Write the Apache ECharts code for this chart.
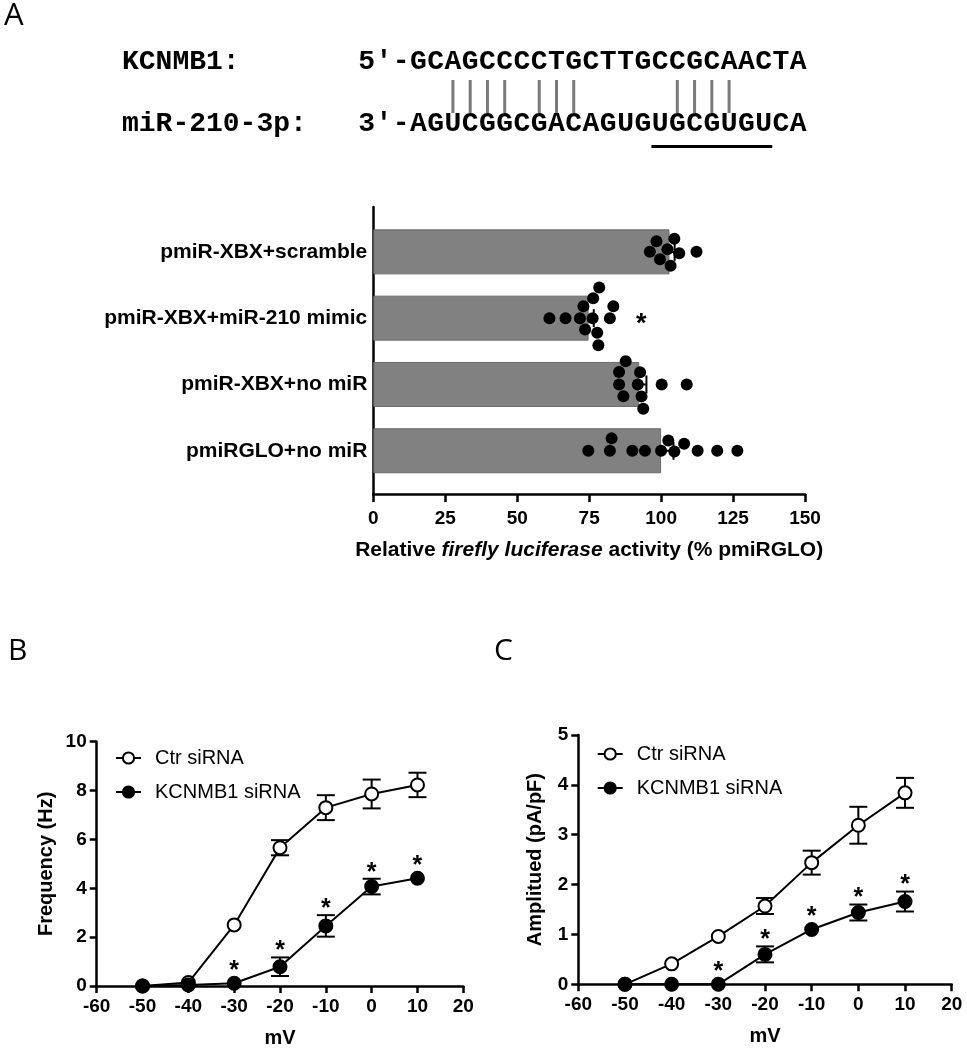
<!DOCTYPE html>
<html>
<head>
<meta charset="utf-8">
<script src="https://cdn.jsdelivr.net/npm/echarts@6/dist/echarts.min.js"></script>
<style>html,body{margin:0;padding:0;background:#fff}#c{width:967px;height:1050px}</style>
</head>
<body>
<div id="c"></div>
<script>
// ---------- DATA ----------
// Panel A: sequence alignment
const seqLabelTop = "KCNMB1:";
const seqLabelBot = "miR-210-3p:";
const seqTop = "5\u2032-GCAGCCCCTGCTTGCCGCAACTA";
const seqBot = "3\u2032-AGUCGGCGACAGUGUGCGUGUCA";
const pairIdx = [5, 6, 7, 8, 10, 11, 12, 18, 19, 20, 21];
const seedRange = [17, 24]; // chars 17..23 underlined

// Panel A: luciferase assay
const categoriesA = ["pmiR-XBX+scramble", "pmiR-XBX+miR-210 mimic", "pmiR-XBX+no miR", "pmiRGLO+no miR"];
const barMeans = [102.9, 74.8, 92.4, 100.0];
const barSEM = [1.8, 1.8, 2.5, 4.3];
const sigA = [false, true, false, false];
const dotsScramble = [96.1, 98.4, 99.6, 102.2, 103.3, 104.6, 106.3, 112.3];
const dotsMimic = [61.2, 66.8, 71.8, 73.0, 73.6, 76.2, 76.4, 77.8, 78.2, 78.5, 82.2, 83.4];
const dotsNoMiR = [85.4, 85.4, 86.9, 87.7, 91.9, 92.7, 93.2, 93.8, 100.2, 108.9];
const dotsGLO = [74.7, 82.2, 82.8, 90.0, 94.4, 100.0, 102.5, 104.6, 108.0, 112.7, 119.5, 126.5];
const xTicksA = [0, 25, 50, 75, 100, 125, 150];

// Panels B & C: voltage (mV)
const mV = [-50, -40, -30, -20, -10, 0, 10];
const seriesNames = ["Ctr siRNA", "KCNMB1 siRNA"];
// B: Frequency (Hz)
const freqCtr = [0, 0.14, 2.50, 5.66, 7.30, 7.86, 8.23];
const freqCtrErr = [0, 0.05, 0.12, 0.31, 0.51, 0.59, 0.50];
const freqKD = [0, 0.04, 0.11, 0.79, 2.46, 4.07, 4.41];
const freqKDErr = [0, 0.02, 0.05, 0.38, 0.44, 0.32, 0.08];
const sigB = [false, false, true, true, true, true, true];
// C: Amplitude (pA/pF)
const ampCtr = [0, 0.41, 0.96, 1.57, 2.44, 3.19, 3.84];
const ampCtrErr = [0, 0.03, 0.05, 0.16, 0.24, 0.37, 0.30];
const ampKD = [0, 0, 0, 0.60, 1.10, 1.44, 1.66];
const ampKDErr = [0, 0, 0, 0.16, 0.05, 0.16, 0.20];
const sigC = [false, false, true, true, true, true, true];

// ---------- STYLE ----------
const SANS = '"Liberation Sans", Arial, sans-serif';
const MONO = '"Liberation Mono", "DejaVu Sans Mono", monospace';
const LETTER = '"Open Sans", "Noto Sans", sans-serif';
const AXW = 2.5;
const SYM = 13;

const chart = echarts.init(document.getElementById('c'), null, {renderer: 'canvas'});

// ---------- Graphic: panel letters + sequence alignment ----------
const graphics = [];
graphics.push({type: 'text', x: 4, y: 1, style: {text: 'A', font: '31px ' + LETTER, fill: '#000'}});
graphics.push({type: 'text', x: 8, y: 636, style: {text: 'B', font: '30px ' + LETTER, fill: '#000'}});
graphics.push({type: 'text', x: 494, y: 636, style: {text: 'C', font: '30px ' + LETTER, fill: '#000'}});

const seqX0 = 358, cw = 17.26, yTop = 61.5, yBot = 123.5;
const seqFont = 'bold 28px ' + MONO;
graphics.push({type: 'text', x: 122, y: yTop, style: {text: seqLabelTop, font: seqFont, fill: '#000', verticalAlign: 'middle'}});
graphics.push({type: 'text', x: 122, y: yBot, style: {text: seqLabelBot, font: seqFont, fill: '#000', verticalAlign: 'middle'}});
[[seqTop, yTop], [seqBot, yBot]].forEach(([s, yy]) => {
  Array.from(s).forEach((ch, i) => {
    graphics.push({type: 'text', x: seqX0 + cw * (i + 0.5), y: yy,
      style: {text: ch, font: seqFont, fill: '#000', align: 'center', verticalAlign: 'middle'}});
  });
});
pairIdx.forEach(i => {
  const x = seqX0 + cw * (i + 0.5);
  graphics.push({type: 'line', shape: {x1: x, y1: 80, x2: x, y2: 113}, style: {stroke: '#7a7a7a', lineWidth: 3}});
});
graphics.push({type: 'line', shape: {x1: seqX0 + cw * seedRange[0], y1: 146.5, x2: seqX0 + cw * seedRange[1], y2: 146.5},
  style: {stroke: '#000', lineWidth: 3}});

// ---------- helpers ----------
// error bars shorter than the symbol radius are hidden behind the symbol (as in the original)
function errV(params, api) {
  const x = api.value(0), m = api.value(1), e = api.value(2);
  if (!(e > 0)) return null;
  const t = api.coord([x, m + e]), c = api.coord([x, m]), b = api.coord([x, Math.max(m - e, 0)]);
  if (Math.abs(c[1] - t[1]) < SYM / 2 + 0.5) return null;
  const hw = 9, st = {stroke: '#000', lineWidth: 2};
  return {type: 'group', children: [
    {type: 'line', shape: {x1: t[0], y1: t[1], x2: b[0], y2: b[1]}, style: st},
    {type: 'line', shape: {x1: t[0] - hw, y1: t[1], x2: t[0] + hw, y2: t[1]}, style: st},
    {type: 'line', shape: {x1: b[0] - hw, y1: b[1], x2: b[0] + hw, y2: b[1]}, style: st}
  ]};
}
function starV(params, api) {
  const x = api.value(0), m = api.value(1), e = api.value(2), s = api.value(3);
  if (!s) return null;
  const pm = api.coord([x, m]), pt = api.coord([x, m + e]);
  const top = Math.min(pt[1], pm[1] - SYM / 2);
  return {type: 'text', x: pm[0], y: top - 12 + 6,
    style: {text: '*', font: 'bold 25px ' + SANS, fill: '#000', align: 'center', verticalAlign: 'middle'}};
}
function errH(params, api) {
  const m = api.value(0), c = api.value(1), e = api.value(2);
  const a = api.coord([m, c]), b = api.coord([m + e, c]);
  const st = {stroke: '#000', lineWidth: 2};
  return {type: 'group', children: [
    {type: 'line', shape: {x1: a[0], y1: a[1], x2: b[0], y2: b[1]}, style: st},
    {type: 'line', shape: {x1: b[0], y1: b[1] - 9, x2: b[0], y2: b[1] + 9}, style: st}
  ]};
}
function starH(params, api) {
  const v = api.value(0), c = api.value(1), s = api.value(2);
  if (!s) return null;
  const p = api.coord([v, c]);
  return {type: 'text', x: p[0] + 28, y: p[1] + 6,
    style: {text: '*', font: 'bold 27px ' + SANS, fill: '#000', align: 'center', verticalAlign: 'middle'}};
}

const tickLab = {fontFamily: SANS, fontWeight: 'bold', fontSize: 19, color: '#000'};
const axLine = {show: true, onZero: false, lineStyle: {color: '#000', width: AXW}};
function valueX(grid, min, max, interval, name, gap) {
  return {type: 'value', gridIndex: grid, min, max, interval,
    axisLine: axLine, axisTick: {show: true, length: 7, lineStyle: {color: '#000', width: AXW}},
    axisLabel: Object.assign({margin: 11}, tickLab), splitLine: {show: false},
    name, nameLocation: 'middle', nameGap: gap,
    nameTextStyle: {fontFamily: SANS, fontWeight: 'bold', fontSize: 20, color: '#000'}};
}
function valueY(grid, min, max, interval, name, gap) {
  return {type: 'value', gridIndex: grid, min, max, interval,
    axisLine: axLine, axisTick: {show: true, length: 7, lineStyle: {color: '#000', width: AXW}},
    axisLabel: Object.assign({margin: 10}, tickLab), splitLine: {show: false},
    name, nameLocation: 'middle', nameGap: gap,
    nameTextStyle: {fontFamily: SANS, fontWeight: 'bold', fontSize: 20, color: '#000'}};
}
function lineSeries(name, x, y, data, hollow, z) {
  return {type: 'line', name, xAxisIndex: x, yAxisIndex: y, z,
    data: mV.map((v, i) => [v, data[i]]),
    symbol: 'circle', symbolSize: SYM, showSymbol: true,
    lineStyle: {color: '#000', width: 2},
    itemStyle: {color: hollow ? '#fff' : '#000', borderColor: '#000', borderWidth: 2},
    emphasis: {disabled: true}};
}
function errSeries(x, y, mean, err, z) {
  return {type: 'custom', xAxisIndex: x, yAxisIndex: y, z, renderItem: errV,
    data: mV.map((v, i) => [v, mean[i], err[i]]), silent: true};
}
function starSeries(x, y, mean, err, sig) {
  return {type: 'custom', xAxisIndex: x, yAxisIndex: y, z: 6, renderItem: starV,
    data: mV.map((v, i) => [v, mean[i], err[i], sig[i] ? 1 : 0]), silent: true};
}

const option = {
  animation: false,
  backgroundColor: '#fff',
  graphic: graphics,
  grid: [
    {left: 373.3, top: 207, width: 431.7, height: 287},     // A frame
    {left: 373.3, top: 218.7, width: 431.7, height: 265.2}, // A bars
    {left: 96.7, top: 741.7, width: 366.6, height: 244.3},  // B
    {left: 578.3, top: 735, width: 373.4, height: 249.3}    // C
  ],
  xAxis: [
    {type: 'value', gridIndex: 0, min: 0, max: 150, interval: 25,
      axisLine: axLine, axisTick: {show: true, length: 8, lineStyle: {color: '#000', width: AXW}},
      axisLabel: Object.assign({margin: 15, formatter: v => xTicksA.includes(v) ? String(v) : ''}, tickLab),
      splitLine: {show: false},
      name: '{b|Relative }{i|firefly luciferase}{b| activity (% pmiRGLO)}',
      nameLocation: 'middle', nameGap: 46,
      nameTextStyle: {rich: {
        b: {fontFamily: SANS, fontWeight: 'bold', fontSize: 21, color: '#000'},
        i: {fontFamily: SANS, fontWeight: 'bold', fontStyle: 'italic', fontSize: 21, color: '#000'}}}},
    {type: 'value', gridIndex: 1, min: 0, max: 150, show: false},
    valueX(2, -60, 20, 10, 'mV', 42),
    valueX(3, -60, 20, 10, 'mV', 42)
  ],
  yAxis: [
    {type: 'value', gridIndex: 0, min: 0, max: 1, axisLine: axLine, axisTick: {show: false},
      axisLabel: {show: false}, splitLine: {show: false}},
    {type: 'category', gridIndex: 1, inverse: true, data: categoriesA,
      axisLine: {show: false}, axisTick: {show: false}, splitLine: {show: false},
      axisLabel: {margin: 6, fontFamily: SANS, fontWeight: 'bold', fontSize: 21, color: '#000'}},
    {type: 'value', gridIndex: 1, min: -0.5, max: 3.5, inverse: true, show: false},
    valueY(2, 0, 10, 2, 'Frequency (Hz)', 40),
    valueY(3, 0, 5, 1, 'Amplitued (pA/pF)', 33)
  ],
  legend: [
    {left: 115, top: 748, orient: 'vertical', itemWidth: 25, itemHeight: 14, itemGap: 14, padding: 0,
      selectedMode: false, data: seriesNames,
      textStyle: {fontFamily: SANS, fontSize: 20, color: '#000', padding: [0, 0, 0, 9]}},
    {left: 596.7, top: 744, orient: 'vertical', itemWidth: 25, itemHeight: 14, itemGap: 14, padding: 0,
      selectedMode: false, data: seriesNames,
      textStyle: {fontFamily: SANS, fontSize: 20, color: '#000', padding: [0, 0, 0, 9]}}
  ],
  series: [
    {type: 'bar', xAxisIndex: 1, yAxisIndex: 1, data: barMeans, barWidth: 45, z: 1,
      itemStyle: {color: '#818181', borderColor: '#6a6a6a', borderWidth: 1}, silent: true},
    {type: 'custom', xAxisIndex: 1, yAxisIndex: 1, z: 3, renderItem: errH, silent: true,
      data: barMeans.map((m, i) => [m, i, barSEM[i]])},
    {id: 'dots', type: 'scatter', xAxisIndex: 1, yAxisIndex: 2, z: 4, symbolSize: 12,
      itemStyle: {color: '#000', opacity: 1}, silent: true, data: []},
    {type: 'custom', xAxisIndex: 1, yAxisIndex: 1, z: 5, renderItem: starH, silent: true,
      data: [dotsScramble, dotsMimic, dotsNoMiR, dotsGLO].map((d, i) => [Math.max(...d), i, sigA[i] ? 1 : 0])},

    errSeries(2, 3, freqCtr, freqCtrErr, 1),
    errSeries(2, 3, freqKD, freqKDErr, 1),
    lineSeries(seriesNames[0], 2, 3, freqCtr, true, 2),
    lineSeries(seriesNames[1], 2, 3, freqKD, false, 3),
    starSeries(2, 3, freqKD, freqKDErr, sigB),

    errSeries(3, 4, ampCtr, ampCtrErr, 1),
    errSeries(3, 4, ampKD, ampKDErr, 1),
    lineSeries(seriesNames[0], 3, 4, ampCtr, true, 2),
    lineSeries(seriesNames[1], 3, 4, ampKD, false, 3),
    starSeries(3, 4, ampKD, ampKDErr, sigC)
  ]
};
chart.setOption(option);

// ---------- beeswarm layout for dots (computed through the axes' scales) ----------
function beeswarm(vals, toPx, diam) {
  const placed = [], out = new Array(vals.length);
  const order = vals.map((v, i) => i).sort((a, b) => vals[a] - vals[b]);
  for (const i of order) {
    const x = toPx(vals[i]);
    const cands = [0];
    for (const p of placed) {
      const dx = Math.abs(p.x - x);
      if (dx < diam) { const dy = Math.sqrt(diam * diam - dx * dx); cands.push(p.y + dy, p.y - dy); }
    }
    cands.sort((a, b) => Math.abs(a) - Math.abs(b) || a - b);
    let y = 0;
    for (const c of cands) {
      if (placed.every(p => (p.x - x) ** 2 + (p.y - c) ** 2 >= diam * diam - 0.01)) { y = c; break; }
    }
    placed.push({x, y}); out[i] = y;
  }
  return out;
}
const toPx = v => chart.convertToPixel({xAxisIndex: 1}, v);
const bandPx = Math.abs(chart.convertToPixel({yAxisIndex: 2}, 1) - chart.convertToPixel({yAxisIndex: 2}, 0));
const dotData = [];
[dotsScramble, dotsMimic, dotsNoMiR, dotsGLO].forEach((d, gi) => {
  const offs = beeswarm(d, toPx, 12.5);
  d.forEach((v, k) => dotData.push([v, gi + offs[k] / bandPx]));
});
chart.setOption({series: [{id: 'dots', data: dotData}]});
</script>
</body>
</html>
